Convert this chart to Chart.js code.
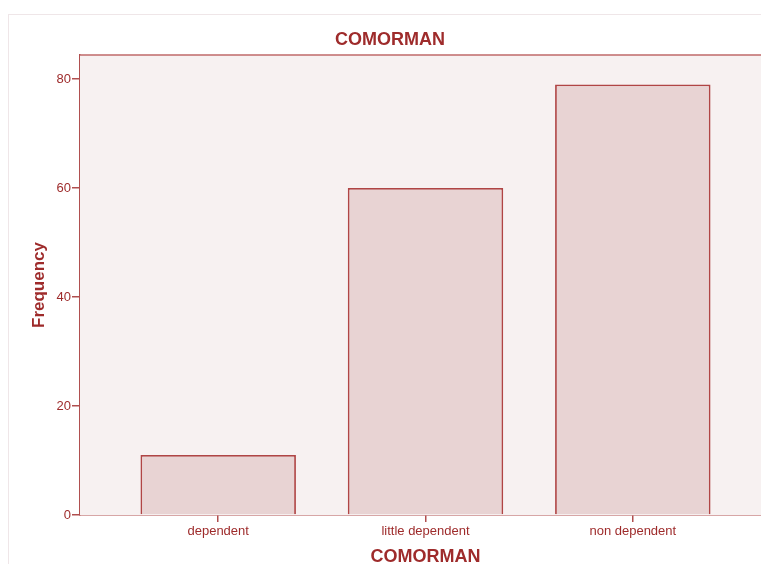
<!DOCTYPE html>
<html>
<head>
<meta charset="utf-8">
<script src="https://cdn.jsdelivr.net/npm/chart.js@4/dist/chart.umd.min.js"></script>
<style>
  html, body { margin: 0; padding: 0; background: #fff; overflow: hidden; width: 761px; height: 564px; }
  #frame { position: absolute; left: 8px; top: 14px; width: 800px; height: 600px; border: 1px solid #efe6e8; }
  #myChart { position: absolute; left: 0; top: 0; }
</style>
</head>
<body>
<div id="frame"><canvas id="myChart" width="768" height="560"></canvas></div>
<script>
const categories = ["dependent", "little dependent", "non dependent"];
const frequency = [11, 60, 79];
const yTicks = [0, 20, 40, 60, 80];

const textColor = "#9e2b2b";
const axisColor = "#b04f4f";

// pink plot background and top border line
const plotBackground = {
  id: "plotBackground",
  beforeDatasetsDraw(chart) {
    const { ctx, chartArea: a } = chart;
    ctx.save();
    ctx.fillStyle = "#f7f1f1";
    ctx.fillRect(a.left, a.top, a.right - a.left, a.bottom - a.top);
    ctx.strokeStyle = "#c06a6a";
    ctx.lineWidth = 1.5;
    ctx.beginPath();
    ctx.moveTo(a.left, a.top);
    ctx.lineTo(a.right, a.top);
    ctx.lineTo(a.right, a.bottom);
    ctx.stroke();
    ctx.restore();
  },
};

chartIt();

function chartIt() {
  const ctx = document.getElementById("myChart");

  new Chart(ctx, {
    type: "bar",
    data: {
      datasets: [
        {
          label: "Frequency",
          data: categories.map((c, i) => ({ x: i, y: frequency[i] })),
          backgroundColor: "#e8d3d3",
          borderColor: "#b04545",
          borderWidth: 1.8,
          barPercentage: 0.75,
          categoryPercentage: 1,
        },
      ],
    },
    plugins: [plotBackground],
    options: {
      responsive: false,
      animation: false,
      devicePixelRatio: 1,
      layout: { padding: { left: 0, right: 6, top: 0, bottom: 0 } },
      plugins: {
        legend: { display: false },
        tooltip: { enabled: false },
        title: {
          display: true,
          text: "COMORMAN",
          color: textColor,
          font: { family: "Liberation Sans, Arial, sans-serif", size: 18, weight: "bold" },
          padding: { top: 14.5, bottom: 3.9 },
        },
      },
      scales: {
        x: {
          type: "linear",
          min: -2 / 3,
          max: 8 / 3,
          offset: false,
          afterBuildTicks: (s) => {
            s.ticks = categories.map((c, i) => ({ value: i }));
          },
          afterFit: (s) => {
            s.height = 60;
          },
          ticks: {
            autoSkip: false,
            maxRotation: 0,
            padding: 2,
            color: textColor,
            font: { family: "Liberation Sans, Arial, sans-serif", size: 13 },
            callback: (v) => categories[v],
          },
          grid: {
            offset: false,
            drawOnChartArea: false,
            tickLength: 7,
            color: axisColor,
            lineWidth: 1.5,
          },
          border: { color: axisColor, width: 1.5 },
          title: {
            display: true,
            text: "COMORMAN",
            color: textColor,
            font: { family: "Liberation Sans, Arial, sans-serif", size: 18, weight: "bold" },
            padding: { top: 0, bottom: 7.5 },
          },
        },
        y: {
          min: 0,
          max: 84.4,
          afterBuildTicks: (s) => {
            s.ticks = yTicks.map((v) => ({ value: v }));
          },
          afterFit: (s) => {
            s.width = 71;
          },
          ticks: {
            padding: 1,
            color: textColor,
            font: { family: "Liberation Sans, Arial, sans-serif", size: 13 },
          },
          grid: {
            drawOnChartArea: false,
            tickLength: 8,
            color: axisColor,
            lineWidth: 1.5,
          },
          border: { color: axisColor, width: 1.5 },
          title: {
            display: true,
            text: "Frequency",
            color: textColor,
            font: { family: "Liberation Sans, Arial, sans-serif", size: 17, weight: "bold" },
            padding: { top: 19.8, bottom: 0 },
          },
        },
      },
    },
  });
}
</script>
</body>
</html>
